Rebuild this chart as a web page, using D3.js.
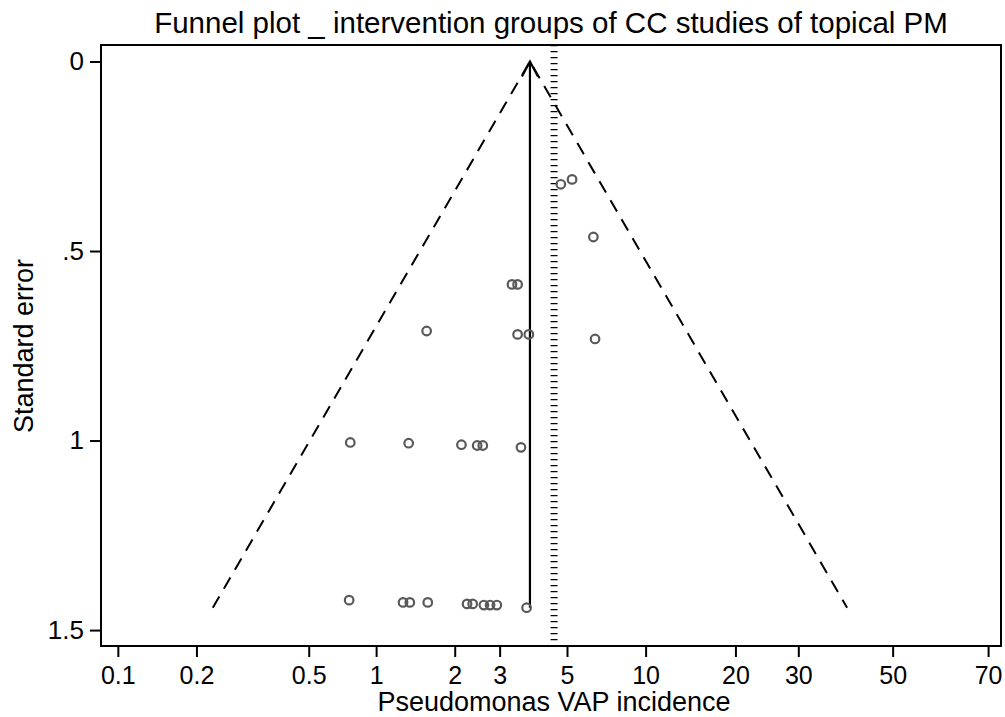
<!DOCTYPE html>
<html>
<head>
<meta charset="utf-8">
<script src="https://cdn.jsdelivr.net/npm/d3@7"></script>
<style>
  html, body { margin: 0; padding: 0; background: #fff; }
  svg { display: block; font-family: "Liberation Sans", Arial, Helvetica, sans-serif; }
</style>
</head>
<body>
<svg id="chart" width="1005" height="717"></svg>
<script>
// Study estimates: logit of Pseudomonas VAP incidence and its standard error
const logitIncidence = [
  -4.84, -4.36, -4.30, -4.14, -3.79, -3.74, -3.64, -3.585, -3.525, -3.26,
  -4.83, -4.31, -3.84, -3.70, -3.65, -3.31,
  -4.15, -3.34, -3.24, -2.65,
  -3.39, -3.34,
  -2.665,
  -2.955, -2.855
];
const stdError = [
  1.421, 1.427, 1.427, 1.427, 1.431, 1.431, 1.434, 1.434, 1.434, 1.441,
  1.005, 1.007, 1.011, 1.013, 1.013, 1.018,
  0.711, 0.720, 0.720, 0.732,
  0.588, 0.588,
  0.463,
  0.324, 0.311
];

// Pooled (fixed) estimate and the reference line, logit scale
const pooledLogit = -3.23;
const referenceLogit = -3.015;

// Axis ticks: positions on the logit scale and the incidence (%) they show
const xTickLogit  = [-6.9, -6.2, -5.2, -4.6, -3.9, -3.5, -2.9, -2.2, -1.4, -0.84, 0, 0.85];
const xTickLabels = ["0.1", "0.2", "0.5", "1", "2", "3", "5", "10", "20", "30", "50", "70"];
const yTickValues = [0, 0.5, 1, 1.5];
const yTickLabels = ["0", ".5", "1", "1.5"];

const titleText = "Funnel plot _ intervention groups of CC studies of topical PM";
const xTitle = "Pseudomonas VAP incidence";
const yTitle = "Standard error";

const svg = d3.select("#chart");
const plot = { left: 101, right: 1001, top: 45, bottom: 646 };

const x = d3.scaleLinear().domain([-7.05, 0.965]).range([plot.left, plot.right]);
const y = d3.scaleLinear().domain([-0.0435, 1.542]).range([plot.top, plot.bottom]);

const seMax = d3.max(stdError);
const z = 1.96;

// Pseudo 95% confidence limits
svg.append("path")
  .attr("d", d3.line()([
    [x(pooledLogit - z * seMax), y(seMax)],
    [x(pooledLogit), y(0)],
    [x(pooledLogit + z * seMax), y(seMax)]
  ]))
  .attr("fill", "none")
  .attr("stroke", "#000")
  .attr("stroke-width", 2)
  .attr("stroke-dasharray", "13,9");

// Reference line
svg.append("line")
  .attr("x1", x(referenceLogit)).attr("x2", x(referenceLogit))
  .attr("y1", plot.top).attr("y2", plot.bottom)
  .attr("stroke", "#000")
  .attr("stroke-width", 7)
  .attr("stroke-dasharray", "1.2,4.8");

// Pooled estimate with arrow
const ax = x(pooledLogit);
svg.append("line")
  .attr("x1", ax).attr("x2", ax)
  .attr("y1", y(seMax)).attr("y2", y(0))
  .attr("stroke", "#000")
  .attr("stroke-width", 2.2);
svg.append("path")
  .attr("d", d3.line()([[ax - 8, y(0) + 15], [ax, y(0)], [ax + 8, y(0) + 15]]))
  .attr("fill", "none")
  .attr("stroke", "#000")
  .attr("stroke-width", 2.2);

// Study markers
svg.append("g")
  .selectAll("circle")
  .data(d3.zip(logitIncidence, stdError))
  .join("circle")
  .attr("cx", d => x(d[0]))
  .attr("cy", d => y(d[1]))
  .attr("r", 4.3)
  .attr("fill", "none")
  .attr("stroke", "#595959")
  .attr("stroke-width", 2.2);

// Plot region border
svg.append("rect")
  .attr("x", plot.left).attr("y", plot.top)
  .attr("width", plot.right - plot.left)
  .attr("height", plot.bottom - plot.top)
  .attr("fill", "none")
  .attr("stroke", "#000")
  .attr("stroke-width", 2);

// X axis
const xAxis = d3.axisBottom(x)
  .tickValues(xTickLogit)
  .tickFormat((d, i) => xTickLabels[i])
  .tickSize(11)
  .tickPadding(9);
const gx = svg.append("g")
  .attr("transform", `translate(0,${plot.bottom})`)
  .call(xAxis);
gx.select(".domain").remove();
gx.selectAll(".tick line").attr("stroke", "#000").attr("stroke-width", 2);
gx.selectAll(".tick text").attr("font-size", 25).attr("fill", "#000")
  .attr("font-family", "'Liberation Sans', Arial, sans-serif");

// Y axis
const yAxis = d3.axisLeft(y)
  .tickValues(yTickValues)
  .tickFormat((d, i) => yTickLabels[i])
  .tickSize(11)
  .tickPadding(6);
const gy = svg.append("g")
  .attr("transform", `translate(${plot.left},0)`)
  .call(yAxis);
gy.select(".domain").remove();
gy.selectAll(".tick line").attr("stroke", "#000").attr("stroke-width", 2);
gy.selectAll(".tick text").attr("font-size", 26).attr("fill", "#000")
  .attr("font-family", "'Liberation Sans', Arial, sans-serif");

// Titles
svg.append("text")
  .attr("x", 551).attr("y", 33)
  .attr("text-anchor", "middle")
  .attr("font-size", 29.5)
  .text(titleText);

svg.append("text")
  .attr("x", 554).attr("y", 711)
  .attr("text-anchor", "middle")
  .attr("font-size", 27)
  .text(xTitle);

svg.append("text")
  .attr("transform", "translate(33,346) rotate(-90)")
  .attr("text-anchor", "middle")
  .attr("font-size", 27)
  .text(yTitle);
</script>
</body>
</html>
